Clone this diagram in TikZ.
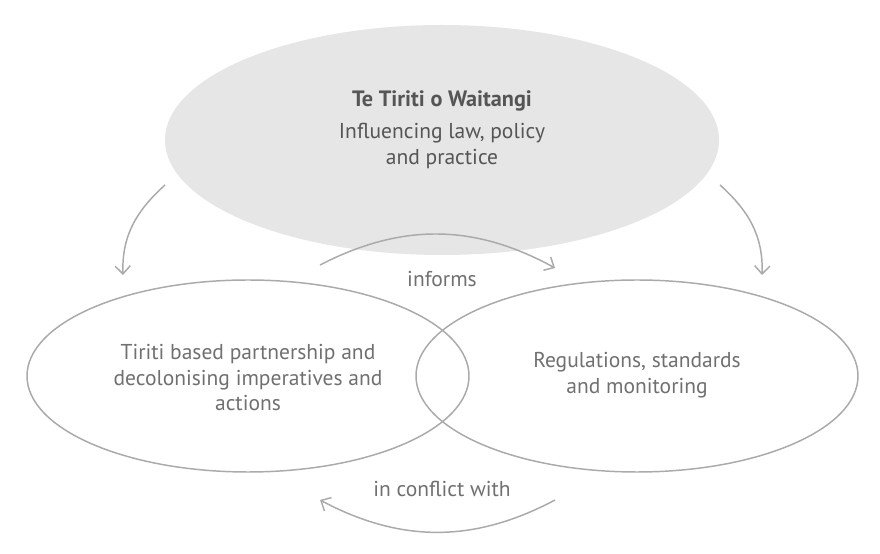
\documentclass[tikz,border=0pt]{standalone}
\usepackage{fontspec}
\setmainfont{PT Sans}
\usetikzlibrary{arrows.meta,positioning,shapes.geometric}
\definecolor{tiritifill}{RGB}{230,230,230}
\definecolor{tiritiline}{RGB}{170,170,170}
\definecolor{tirititext}{RGB}{112,112,112}
\definecolor{tiritidark}{RGB}{85,85,85}

\begin{document}
\begin{tikzpicture}[
  font=\fontsize{15.3}{18.2}\selectfont, >={Straight Barb[length=2mm,width=3.8mm]},
  oval/.style={ellipse,draw=tiritiline,line width=1.05pt,inner sep=0pt,
    minimum width=11.05cm,minimum height=4.8cm,align=center,text=tirititext},
  topoval/.style={ellipse,fill=tiritifill,inner sep=0pt,
    minimum width=13.85cm,minimum height=5.75cm,align=center,text=tiritidark},
  arr/.style={->,line width=1.05pt,draw=tiritiline},
  lbl/.style={text=tirititext}
]
\useasboundingbox (0,0) rectangle (22,13.825);

\node[topoval] (tt) at (11.05,10.325) {};
\node[font=\fontsize{15.8}{18}\selectfont\bfseries,text=tiritidark] (ttitle) at (11.05,11.3) {Te Tiriti o Waitangi};
\node[text=tiritidark,align=center] (tsub) at (11.05,10.18) {Influencing law, policy\\and practice};

\node[oval] (left) at (6.2,4.425) {};
\node[oval] (right) at (15.925,4.425) {};
\node[lbl,align=center] (ltext) at (6.2,4.38) {Tiriti based partnership and\\decolonising imperatives and\\actions};
\node[lbl,align=center] (rtext) at (15.925,4.45) {Regulations, standards\\and monitoring};

\coordinate (la) at (4.125,9.2);
\coordinate (lb) at (3.075,6.95);
\coordinate (ra) at (18.0,9.2);
\coordinate (rb) at (19.05,6.95);
\draw[arr] (la) to[out=222,in=92] (lb);
\draw[arr] (ra) to[out=-42,in=88] (rb);

\coordinate (ia) at (8.0,7.2);
\coordinate (ib) at (13.875,7.125);
\draw[arr] (ia) to[bend left=28] (ib);
\node[lbl] (inf) at (11.05,6.85) {informs};

\coordinate (ca) at (13.875,1.325);
\coordinate (cb) at (8.0,1.325);
\draw[arr] (ca) to[bend left=28] (cb);
\node[lbl] (conf) at (11.05,1.6) {in conflict with};
\end{tikzpicture}
\end{document}
